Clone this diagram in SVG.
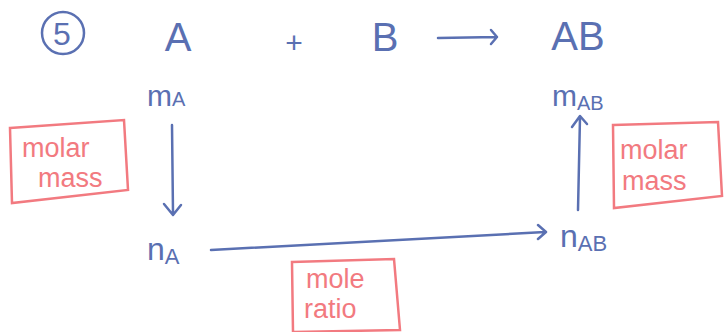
<svg xmlns="http://www.w3.org/2000/svg" width="725" height="332" viewBox="0 0 725 332">
<style>
.b{fill:#5a70b2;font-family:"Liberation Sans",Arial,sans-serif}
.r{fill:#f27a80;font-family:"Liberation Sans",Arial,sans-serif;font-size:27px}
.box{fill:none;stroke:#f27a80;stroke-width:2.5}
.ln{fill:none;stroke:#5a70b2;stroke-width:2.5;stroke-linecap:round;stroke-linejoin:round}
</style>
<rect width="725" height="332" fill="#fff"/>
<g id="num">
<circle cx="63" cy="33" r="21" class="ln" stroke-width="3"/>
<text x="62" y="45" class="b" font-size="32" text-anchor="middle">5</text>
</g>
<g id="eq">
<text x="178" y="51" class="b" font-size="40" text-anchor="middle">A</text>
<text x="294" y="53" class="b" font-size="30" text-anchor="middle">+</text>
<text x="385" y="51" class="b" font-size="40" text-anchor="middle">B</text>
<text x="578" y="50" class="b" font-size="40" text-anchor="middle">AB</text>
</g>
<g id="mA"><text x="147" y="106" class="b" font-size="30">m<tspan font-size="20">A</tspan></text></g>
<g id="mAB"><text x="552" y="106" class="b" font-size="30">m<tspan font-size="20" dy="4">AB</tspan></text></g>
<g id="nA"><text x="147" y="260" class="b" font-size="32">n<tspan font-size="22" dy="4">A</tspan></text></g>
<g id="nAB"><text x="560" y="247" class="b" font-size="32">n<tspan font-size="22" dy="4">AB</tspan></text></g>
<g id="mm1">
<path d="M10 128 L124 120 L128 190 L12 203 Z" class="box"/>
<text x="22" y="157" class="r">molar</text>
<text x="38" y="187" class="r">mass</text>
</g>
<g id="mm2">
<path d="M613 125 L718 122 L722 196 L614 208 Z" class="box"/>
<text x="620" y="159" class="r">molar</text>
<text x="622" y="190" class="r">mass</text>
</g>
<g id="mr">
<path d="M292 262 L394 259 L400 330 L293 332 Z" class="box"/>
<text x="306" y="288" class="r">mole</text>
<text x="304" y="318" class="r">ratio</text>
</g>
<g id="connectors">
<path d="M438 38 L497 37 M491 30 L497 37 L491 44" class="ln"/>
<path d="M172 125 L173 213 M164 204 L173 215 L181 205" class="ln"/>
<path d="M211 250 L545 232 M538 225 L546 232 L538 239" class="ln"/>
<path d="M578 210 L580 117 M572 127 L580 116 L587 124" class="ln"/>
</g>
</svg>
